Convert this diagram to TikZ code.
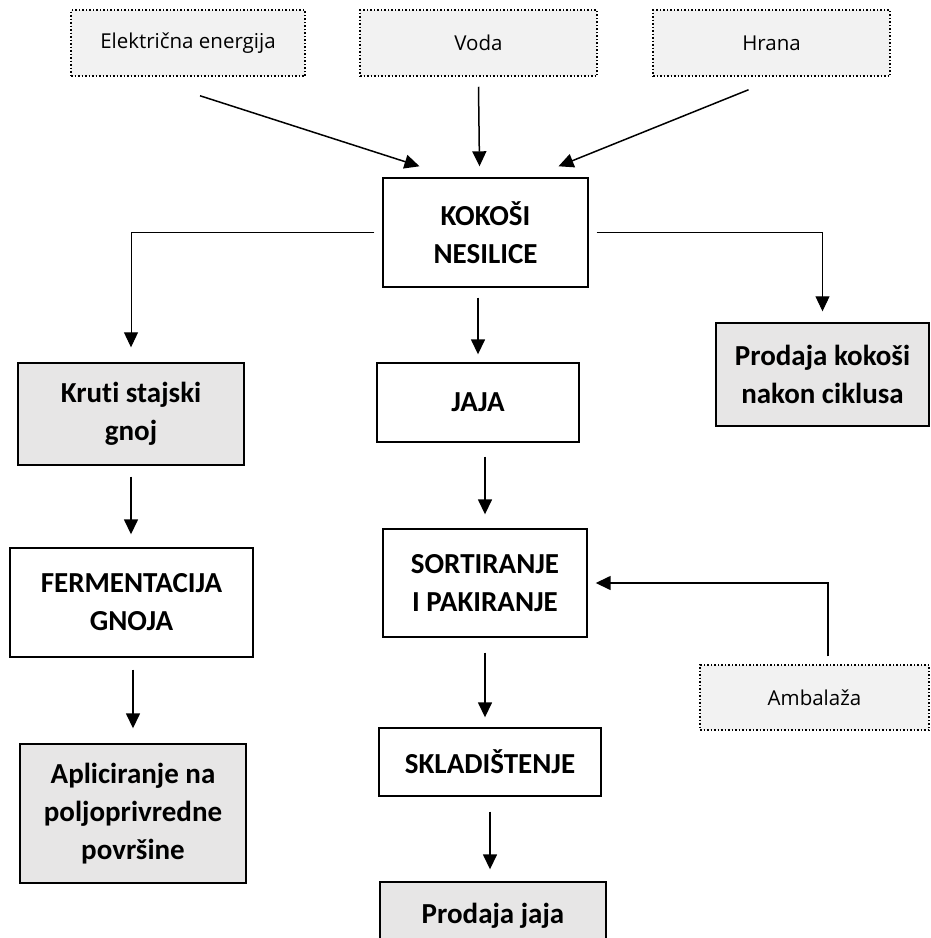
\documentclass[tikz,border=0pt]{standalone}
\usepackage{fontspec}
\setmainfont{Carlito}[Ligatures=NoCommon]
\newfontfamily\inputfont{Open Sans}
\usetikzlibrary{arrows.meta}

\definecolor{resultgray}{RGB}{231,230,230}
\definecolor{inputgray}{RGB}{242,242,242}

\tikzset{
	stepbox/.style={draw, line width=1.4pt, align=center, inner sep=0pt,
		font=\bfseries\fontsize{29}{38}\selectfont},
	resultbox/.style={stepbox, fill=resultgray},
	inputbox/.style={draw, dotted, line width=1.5pt, fill=inputgray, inner sep=0pt,
		font=\inputfont\fontsize{20.5}{24}\selectfont},
	arr/.style={line width=1.5pt, -{Triangle[length=15pt,width=14pt]}},
	elbow/.style={line width=1pt, -{Triangle[length=15pt,width=14pt]}}
}

\begin{document}
\begin{tikzpicture}[x=1pt,y=1pt,yscale=-1,xscale=1]
	\useasboundingbox (0,0) rectangle (931,938);
	
	% Inputs
	\node [inputbox, minimum width=234, minimum height=66] (el) at (188,43) {Električna energija};
	\node [inputbox, minimum width=237, minimum height=66] (voda) at (478.5,43) {Voda};
	\node [inputbox, minimum width=237, minimum height=66] (hrana) at (771.5,43) {Hrana};
	
	% Main flow
	\node [stepbox, minimum width=205, minimum height=109] (kok) at (485.5,232.5) {KOKOŠI\\NESILICE};
	\node [stepbox, minimum width=202, minimum height=79] (jaja) at (478,402.5) {JAJA};
	\node [stepbox, minimum width=204, minimum height=108] (sort) at (485,583) {SORTIRANJE\\I PAKIRANJE};
	\node [stepbox, minimum width=222, minimum height=68] (skl) at (490,762) {SKLADIŠTENJE};
	\node [resultbox, minimum width=226, minimum height=68] (prodj) at (493,916) {Prodaja jaja};
	
	% Manure
	\node [resultbox, minimum width=226, minimum height=102] (kruti) at (131,414) {Kruti stajski\\gnoj};
	\node [stepbox, minimum width=243, minimum height=109] (ferm) at (131.5,602.5) {FERMENTACIJA\\GNOJA};
	\node [resultbox, minimum width=226, minimum height=139] (apl) at (133,813.5) {Apliciranje na\\poljoprivredne\\površine};
	
	% Side boxes
	\node [resultbox, minimum width=213, minimum height=103] (prodk) at (822.5,374.5) {Prodaja kokoši\\nakon ciklusa};
	\node [inputbox, minimum width=229, minimum height=65] (amb) at (814.5,697.5) {Ambalaža};
	
	% Inputs to hens (yshift is flipped by yscale=-1)
	\draw [arr] ([xshift=12pt,yshift=19pt]el.south) -- ([xshift=-66pt,yshift=-11pt]kok.north);
	\draw [arr] ([yshift=10pt]voda.south) -- ([xshift=-6pt,yshift=-11pt]kok.north);
	\draw [arr] ([xshift=-23pt,yshift=13pt]hrana.south) -- ([xshift=73pt,yshift=-11pt]kok.north);
	
	% Branches
	\draw [elbow, shorten <=8pt, shorten >=15pt] (kok.west) -| (kruti.north);
	\draw [elbow, shorten <=8pt, shorten >=11pt] (kok.east) -| (prodk.north);
	\draw [arr, shorten <=8pt] ([xshift=13.5pt]amb.north) |- ([xshift=8pt]sort.east);
	
	% Vertical steps
	\draw [arr, shorten <=10pt, shorten >=8pt] (kok.south -| jaja.north) -- (jaja.north);
	\draw [arr, shorten <=14pt, shorten >=14pt] (jaja.south -| sort.north) -- (sort.north);
	\draw [arr, shorten <=15pt, shorten >=10pt] (sort.south) -- (sort.south |- skl.north);
	\draw [arr, shorten <=15pt, shorten >=12pt] (skl.south) -- (skl.south |- prodj.north);
	\draw [arr, shorten <=11pt, shorten >=13pt] (kruti.south) -- (kruti.south |- ferm.north);
	\draw [arr, shorten <=12pt, shorten >=15pt] (ferm.south -| apl.north) -- (apl.north);
\end{tikzpicture}
\end{document}
